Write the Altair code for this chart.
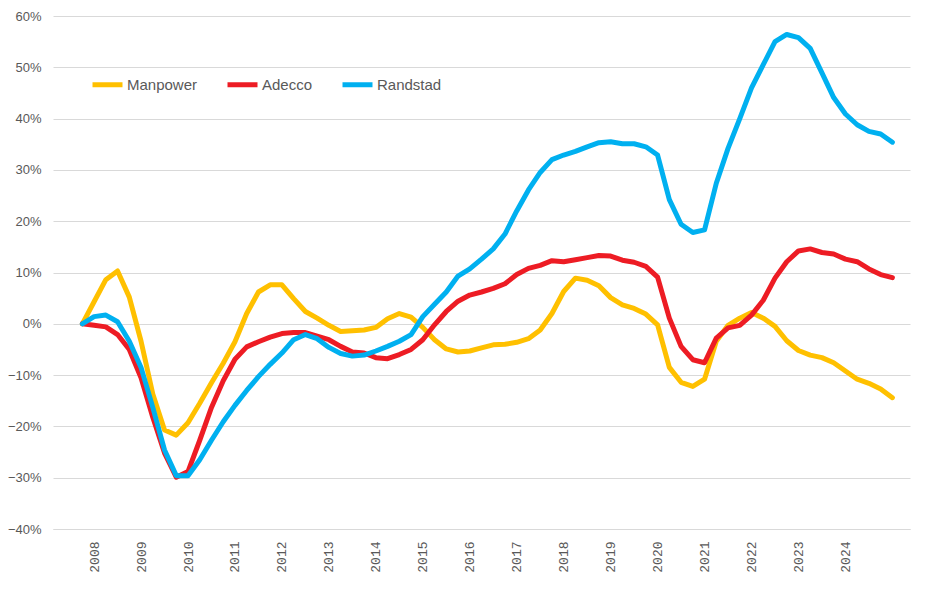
import altair as alt
import pandas as pd

companies = ["Manpower", "Adecco", "Randstad"]
colors = ["#FFC000", "#ED1C24", "#00B0F0"]

# Quarterly index 0 = Q4 2007 (base), 1 = Q1 2008, ... (values in %)
manpower = [0, 4.3, 8.6, 10.3, 5.2, -3.4, -13.7, -20.7, -21.7, -19.3,
            -15.5, -11.5, -7.7, -3.5, 2.0, 6.2, 7.6, 7.6, 4.9, 2.4,
            1.1, -0.3, -1.5, -1.35, -1.2, -0.7, 1.0, 2.0, 1.3, -0.7,
            -3.1, -4.9, -5.5, -5.3, -4.7, -4.1, -4.0, -3.6, -2.9, -1.2,
            2.0, 6.3, 8.9, 8.5, 7.4, 5.1, 3.7, 3.0, 1.9, -0.2,
            -8.5, -11.4, -12.2, -10.8, -3.4, -0.3, 1.1, 2.2, 1.1, -0.5,
            -3.3, -5.2, -6.1, -6.6, -7.6, -9.2, -10.8, -11.6, -12.7, -14.4]
adecco = [0, -0.3, -0.6, -2.1, -5.0, -10.5, -18.2, -25.2, -29.9, -28.8,
          -22.7, -16.3, -11.1, -6.9, -4.5, -3.5, -2.6, -1.9, -1.7, -1.7,
          -2.4, -3.1, -4.4, -5.5, -5.7, -6.6, -6.8, -6.0, -5.0, -3.1,
          -0.2, 2.4, 4.4, 5.6, 6.2, 6.9, 7.8, 9.6, 10.8, 11.4,
          12.3, 12.1, 12.5, 12.9, 13.3, 13.2, 12.4, 12.0, 11.2, 9.1,
          1.1, -4.4, -7.0, -7.6, -2.8, -0.8, -0.3, 1.7, 4.6, 8.9,
          12.1, 14.2, 14.6, 13.9, 13.6, 12.6, 12.1, 10.7, 9.6, 9.0]
randstad = [0, 1.4, 1.7, 0.4, -3.4, -8.5, -16.3, -24.6, -29.6, -29.6,
            -26.5, -22.7, -19.1, -15.9, -13.0, -10.3, -7.9, -5.7, -3.1, -2.1,
            -2.9, -4.6, -5.8, -6.3, -6.1, -5.3, -4.4, -3.4, -2.1, 1.4,
            3.8, 6.2, 9.3, 10.7, 12.6, 14.6, 17.5, 22.0, 26.1, 29.5,
            32.0, 32.9, 33.6, 34.5, 35.3, 35.5, 35.1, 35.1, 34.5, 32.9,
            24.2, 19.4, 17.8, 18.3, 27.4, 34.2, 40.0, 46.0, 50.5, 55.0,
            56.4, 55.8, 53.7, 48.9, 44.1, 40.9, 38.8, 37.5, 37.0, 35.4]

year_labels = list(range(2008, 2025))
label_positions = [1 + 4 * k for k in range(len(year_labels))]

rows = []
for name, series in zip(companies, [manpower, adecco, randstad]):
    for i, v in enumerate(series):
        rows.append({"company": name, "q": i, "value": v / 100.0})
df = pd.DataFrame(rows)

gray_text = "#595959"
grid = "#D9D9D9"

color = alt.Color(
    "company:N",
    scale=alt.Scale(domain=companies, range=colors),
    legend=alt.Legend(
        title=None,
        orient="none",
        legendX=37,
        legendY=51,
        direction="horizontal",
        symbolType="stroke",
        symbolSize=900,
        symbolStrokeWidth=5,
        labelFontSize=15,
        labelFont="Liberation Sans",
        labelColor=gray_text,
        labelOffset=2,
        columnPadding=19,
        padding=0,
    ),
)

x = alt.X(
    "q:Q",
    scale=alt.Scale(domain=[-2.5, 70.5], nice=False, zero=False),
    axis=alt.Axis(
        title=None,
        values=label_positions,
        labelExpr="'' + (2007 + (datum.value + 3) / 4)",
        labelAngle=-90,
        labelAlign="right",
        labelBaseline="middle",
        labelFont="Liberation Mono",
        labelFontSize=13,
        labelColor=gray_text,
        labelPadding=12,
        ticks=False,
        grid=False,
        domainColor=grid,
        domainWidth=1,
    ),
)
y = alt.Y(
    "value:Q",
    scale=alt.Scale(domain=[-0.4, 0.6], nice=False),
    axis=alt.Axis(
        title=None,
        values=[v / 10 for v in range(-4, 7)],
        format=".0%",
        labelFont="Liberation Sans",
        labelFontSize=13,
        labelColor=gray_text,
        labelPadding=12,
        ticks=False,
        domain=False,
        gridColor=grid,
        gridWidth=1,
    ),
)

layers = []
for name in companies:
    layers.append(
        alt.Chart(df)
        .transform_filter(alt.datum.company == name)
        .mark_line(strokeWidth=5, strokeJoin="round", strokeCap="round")
        .encode(x=x, y=y, color=color)
    )

chart = (
    alt.layer(*layers)
    .properties(
        width=857,
        height=513,
        autosize=alt.AutoSizeParams(type="none"),
        padding={"left": 45, "top": 8, "right": 10, "bottom": 50},
        background="white",
    )
    .configure_view(stroke=None)
)

chart.save("out.html", embed_options={"renderer": "svg", "actions": False})
